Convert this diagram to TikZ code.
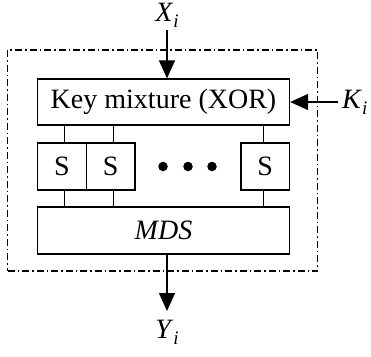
\documentclass[tikz,border=0pt]{standalone}
\usepackage{fontspec}
\setmainfont{Liberation Serif}
\usetikzlibrary{arrows.meta}
% italic index set low and small, as in X_i
\newcommand\lowidx[1]{\raisebox{-0.22em}{\fontsize{19}{19}\selectfont\textit{#1}}}
\begin{document}
\begin{tikzpicture}[x=1pt,y=-1pt,
  box/.style={draw, line width=1.3pt, inner sep=0pt, font=\fontsize{28}{34}\selectfont},
  sbox/.style={box, minimum width=48.5pt, minimum height=47pt},
  link/.style={line width=1.3pt},
  flow/.style={line width=1.3pt, -{Triangle[length=18pt,width=16pt]}},
  lbl/.style={inner sep=0pt, font=\fontsize{28}{34}\selectfont},
  dot/.style={circle, fill, inner sep=0pt, minimum size=9.5pt},
  frame/.style={draw, line width=1.3pt, dash pattern=on 7pt off 3pt on 1.5pt off 3pt, inner sep=0pt}]
\useasboundingbox (0,0) rectangle (371,356);

% round boundary
\node[frame, minimum width=310pt, minimum height=221pt] (stage) at (162.5,160.5) {};

% key mixing, substitution layer and diffusion layer
\node[box, minimum width=252pt, minimum height=46pt] (key) at (163.5,102) {Key mixture (XOR)};
\node[sbox] (s1) at (62,166.5) {S};
\node[sbox] (s2) at (110.75,166.5) {S};
\node[sbox] (s3) at (265.25,166.5) {S};
\node[dot] (d1) at (163,166.5) {};
\node[dot] (d2) at (188,166.5) {};
\node[dot] (d3) at (212,166.5) {};
\node[box, minimum width=252pt, minimum height=47pt] (mds) at (163.5,230.5) {\textit{MDS}};

% wires between layers
\draw[link] ([xshift=2.5pt]s1.north |- key.south) -- ([xshift=2.5pt]s1.north);
\draw[link] ([xshift=3pt]s2.north |- key.south) -- ([xshift=3pt]s2.north);
\draw[link] ([xshift=-1.75pt]s3.north |- key.south) -- ([xshift=-1.75pt]s3.north);
\draw[link] ([xshift=2.5pt]s1.south) -- ([xshift=2.5pt]s1.south |- mds.north);
\draw[link] ([xshift=3pt]s2.south) -- ([xshift=3pt]s2.south |- mds.north);
\draw[link] ([xshift=-1.75pt]s3.south) -- ([xshift=-1.75pt]s3.south |- mds.north);

% input, round key and output
\node[lbl] (xl) at (167,15.5) {\textit{X}\lowidx{i}};
\coordinate (xin) at (167,30);
\draw[flow] (xin) -- (xin |- key.north);

\node[lbl, anchor=west] (kl) at (342,102) {\textit{K}\lowidx{i}};
\coordinate (kin) at (338,102);
\draw[flow] (kin) -- (key.east);

\coordinate (yout) at (167,311);
\draw[flow] (yout |- mds.south) -- (yout);
\node[lbl] (yl) at (167,332) {\textit{Y}\lowidx{i}};
\end{tikzpicture}
\end{document}
